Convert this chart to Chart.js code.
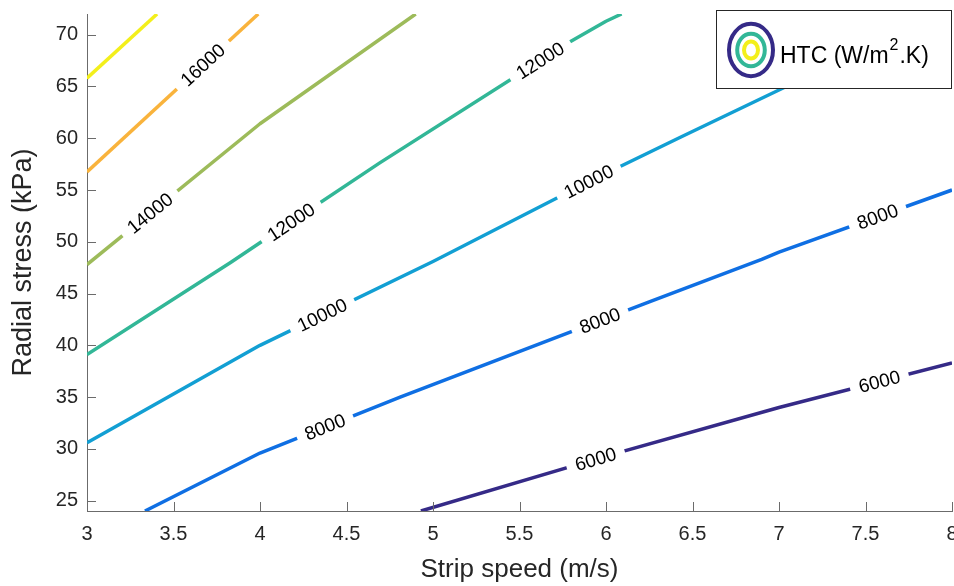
<!DOCTYPE html>
<html>
<head>
<meta charset="utf-8">
<script src="https://cdn.jsdelivr.net/npm/chart.js@4/dist/chart.umd.min.js"></script>
<style>
  html, body { margin:0; padding:0; background:#fff; overflow:hidden; }
  #wrap { position:absolute; left:0; top:0; width:954px; height:586px; }
</style>
</head>
<body>
<div id="wrap"><canvas id="c"></canvas></div>
<script>
// contour levels of the heat transfer coefficient
const levels = [6000, 8000, 10000, 12000, 14000, 16000, 18000];
const levelColors = ['#352a87', '#0f6fe3', '#129fd3', '#32b797', '#9dbb5a', '#f9b33c', '#f3ef1b'];

// contour paths, [strip speed (m/s), radial stress (kPa)]
const htc6000  = [[4.93,24],[6,29.3],[7,34.0],[8,38.3]];
const htc8000  = [[3.335,24],[4,29.6],[4.81,35.0],[6.25,44.2],[6.9,48.3],[7.0,49.0],[8,55.0]];
const htc10000 = [[3,30.6],[4,40.0],[5,48.1],[5.9,55.8],[6.43,60.1],[7.03,64.9],[7.9,72]];
const htc12000 = [[3,39.1],[3.83,48.0],[4,49.9],[4.69,57.6],[5.79,69.3],[6.0,71.3],[6.09,72]];
const htc14000 = [[3,47.8],[4,61.4],[4.9,72]];
const htc16000 = [[3,56.75],[3.99,72]];
const htc18000 = [[3,65.8],[3.405,72]];
const contours = [htc6000, htc8000, htc10000, htc12000, htc14000, htc16000, htc18000];

// inline labels: [level, strip speed where the label sits]
const labelAt = [[6000,5.94],[6000,7.58],[8000,4.376],[8000,5.965],[8000,7.57],
                 [10000,4.36],[10000,5.9],[12000,4.18],[12000,5.62],[14000,3.364],[16000,3.67]];

const xTicks = [3,3.5,4,4.5,5,5.5,6,6.5,7,7.5,8];
const yTicks = [25,30,35,40,45,50,55,60,65,70];

const FONT = "'Liberation Sans', Arial, Helvetica, sans-serif";
const AX = '#6b6b6b', TXT = '#262626';
Chart.defaults.font.family = FONT;

// MATLAB style ticks pointing into the axes
const inwardTicks = {
  id:'inwardTicks',
  afterDatasetsDraw(chart) {
    const {ctx, chartArea:a, scales:{x, y}} = chart;
    ctx.save();
    ctx.strokeStyle = AX; ctx.lineWidth = 1;
    ctx.beginPath();
    x.ticks.forEach(t => { const p = Math.round(x.getPixelForValue(t.value)) + 0.5; ctx.moveTo(p, a.bottom); ctx.lineTo(p, a.bottom - 9); });
    y.ticks.forEach(t => { const p = Math.round(y.getPixelForValue(t.value)) + 0.5; ctx.moveTo(a.left, p); ctx.lineTo(a.left + 9, p); });
    ctx.stroke();
    ctx.restore();
  }
};

// clabel-like text laid along the contour, with a gap in the line
const contourLabels = {
  id:'contourLabels',
  afterDatasetsDraw(chart) {
    const {ctx, scales:{x, y}} = chart;
    ctx.save();
    ctx.font = '19px ' + FONT;
    labelAt.forEach(([lv, sx]) => {
      const pts = contours[levels.indexOf(lv)];
      let i = 0;
      while (i < pts.length - 2 && pts[i+1][0] < sx) i++;
      const [x0, y0] = pts[i], [x1, y1] = pts[i+1];
      const sy = y0 + (sx - x0) / (x1 - x0) * (y1 - y0);
      const px = x.getPixelForValue(sx), py = y.getPixelForValue(sy);
      const ang = Math.atan2(y.getPixelForValue(y1) - y.getPixelForValue(y0), x.getPixelForValue(x1) - x.getPixelForValue(x0));
      const txt = String(lv), w = ctx.measureText(txt).width;
      ctx.save();
      ctx.translate(px, py); ctx.rotate(ang);
      ctx.fillStyle = '#fff'; ctx.fillRect(-w/2 - 9, -9, w + 18, 18);
      ctx.fillStyle = '#000'; ctx.textAlign = 'center'; ctx.textBaseline = 'middle';
      ctx.fillText(txt, 0, 1);
      ctx.restore();
    });
    ctx.restore();
  }
};

// legend box with concentric contour icon
const htcLegend = {
  id:'htcLegend',
  afterDraw(chart) {
    const ctx = chart.ctx;
    ctx.save();
    ctx.fillStyle = '#fff'; ctx.fillRect(716, 10, 236, 79);
    ctx.strokeStyle = TXT; ctx.lineWidth = 1; ctx.strokeRect(716.5, 10.5, 235, 78);
    ctx.lineWidth = 4;
    [[22, 26.2, levelColors[0]], [13.8, 16.3, levelColors[3]], [7, 8.5, levelColors[6]]].forEach(([rx, ry, c]) => {
      ctx.strokeStyle = c; ctx.beginPath(); ctx.ellipse(751, 50, rx, ry, 0, 0, Math.PI*2); ctx.stroke();
    });
    ctx.fillStyle = '#000'; ctx.textBaseline = 'alphabetic'; ctx.textAlign = 'left';
    ctx.font = '23px ' + FONT;
    let tx = 780;
    ctx.fillText('HTC (W/m', tx, 63); tx += ctx.measureText('HTC (W/m').width + 1;
    ctx.font = '16px ' + FONT;
    ctx.fillText('2', tx, 50); tx += ctx.measureText('2').width + 1;
    ctx.font = '23px ' + FONT;
    ctx.fillText('.K)', tx, 63);
    ctx.restore();
  }
};

const noPad = s => { s.paddingLeft = 0; s.paddingRight = 0; s.paddingTop = 0; s.paddingBottom = 0; };

new Chart(document.getElementById('c'), {
  type:'line',
  data:{
    datasets: contours.map((pts, i) => ({
      label: String(levels[i]),
      data: pts.map(([sx, sy]) => ({x:sx, y:sy})),
      borderColor: levelColors[i], borderWidth:3.5, pointRadius:0, tension:0, fill:false,
      borderJoinStyle:'round'
    }))
  },
  options:{
    responsive:true, maintainAspectRatio:false, animation:false,
    layout:{ padding:{ top:14, right:2, left:0, bottom:0 } },
    plugins:{ legend:{display:false}, tooltip:{enabled:false} },
    scales:{
      x:{
        type:'linear', min:3, max:8,
        afterBuildTicks: s => { s.ticks = xTicks.map(v => ({value:v})); },
        afterFit: s => { s.height = 75; noPad(s); },
        ticks:{ font:{size:20}, color:TXT, padding:11, maxRotation:0, autoSkip:false, callback:v => String(v) },
        grid:{ drawOnChartArea:false, drawTicks:false },
        border:{ color:AX, width:1 },
        title:{ display:true, text:'Strip speed (m/s)', font:{size:26, lineHeight:1.2}, color:TXT, padding:{top:0, bottom:1} }
      },
      y:{
        type:'linear', min:24, max:72,
        afterBuildTicks: s => { s.ticks = yTicks.map(v => ({value:v})); },
        afterFit: s => { s.width = 87; noPad(s); },
        ticks:{ font:{size:20}, color:TXT, padding:9, autoSkip:false, callback:v => String(v) },
        grid:{ drawOnChartArea:false, drawTicks:false },
        border:{ color:AX, width:1 },
        title:{ display:true, text:'Radial stress (kPa)', font:{size:27, lineHeight:1.2}, color:TXT, padding:{top:7, bottom:0} }
      }
    }
  },
  plugins:[inwardTicks, contourLabels, htcLegend]
});
</script>
</body>
</html>
